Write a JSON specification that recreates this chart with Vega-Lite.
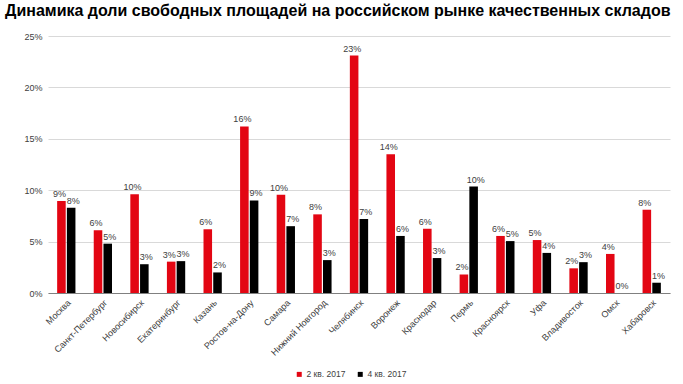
{
  "$schema": "https://vega.github.io/schema/vega-lite/v6.json",
  "autosize": {"type": "none"},
  "width": 622,
  "height": 257,
  "padding": {"left": 48, "top": 36, "right": 13, "bottom": 91},
  "background": "white",
  "title": {
    "text": "Динамика доли свободных площадей на российском рынке качественных складов",
    "anchor": "start",
    "frame": "group",
    "dx": -43,
    "offset": 13,
    "font": "Liberation Sans",
    "fontSize": 16,
    "fontWeight": "bold",
    "color": "#000000"
  },
  "config": {
    "view": {"stroke": null},
    "font": "Liberation Sans"
  },
  "data": {
    "values": [
      {"city": "Москва", "period": "2 кв. 2017", "value": 0.0895},
      {"city": "Москва", "period": "4 кв. 2017", "value": 0.083},
      {"city": "Санкт-Петербург", "period": "2 кв. 2017", "value": 0.061},
      {"city": "Санкт-Петербург", "period": "4 кв. 2017", "value": 0.048},
      {"city": "Новосибирск", "period": "2 кв. 2017", "value": 0.096},
      {"city": "Новосибирск", "period": "4 кв. 2017", "value": 0.028},
      {"city": "Екатеринбург", "period": "2 кв. 2017", "value": 0.0305},
      {"city": "Екатеринбург", "period": "4 кв. 2017", "value": 0.031},
      {"city": "Казань", "period": "2 кв. 2017", "value": 0.062},
      {"city": "Казань", "period": "4 кв. 2017", "value": 0.020},
      {"city": "Ростов-на-Дону", "period": "2 кв. 2017", "value": 0.162},
      {"city": "Ростов-на-Дону", "period": "4 кв. 2017", "value": 0.090},
      {"city": "Самара", "period": "2 кв. 2017", "value": 0.0955},
      {"city": "Самара", "period": "4 кв. 2017", "value": 0.065},
      {"city": "Нижний Новгород", "period": "2 кв. 2017", "value": 0.0765},
      {"city": "Нижний Новгород", "period": "4 кв. 2017", "value": 0.032},
      {"city": "Челябинск", "period": "2 кв. 2017", "value": 0.231},
      {"city": "Челябинск", "period": "4 кв. 2017", "value": 0.072},
      {"city": "Воронеж", "period": "2 кв. 2017", "value": 0.135},
      {"city": "Воронеж", "period": "4 кв. 2017", "value": 0.0555},
      {"city": "Краснодар", "period": "2 кв. 2017", "value": 0.0625},
      {"city": "Краснодар", "period": "4 кв. 2017", "value": 0.034},
      {"city": "Пермь", "period": "2 кв. 2017", "value": 0.018},
      {"city": "Пермь", "period": "4 кв. 2017", "value": 0.1035},
      {"city": "Красноярск", "period": "2 кв. 2017", "value": 0.0555},
      {"city": "Красноярск", "period": "4 кв. 2017", "value": 0.0505},
      {"city": "Уфа", "period": "2 кв. 2017", "value": 0.0515},
      {"city": "Уфа", "period": "4 кв. 2017", "value": 0.039},
      {"city": "Владивосток", "period": "2 кв. 2017", "value": 0.024},
      {"city": "Владивосток", "period": "4 кв. 2017", "value": 0.030},
      {"city": "Омск", "period": "2 кв. 2017", "value": 0.038},
      {"city": "Омск", "period": "4 кв. 2017", "value": 0.0},
      {"city": "Хабаровск", "period": "2 кв. 2017", "value": 0.081},
      {"city": "Хабаровск", "period": "4 кв. 2017", "value": 0.010}
    ]
  },
  "encoding": {
    "x": {
      "field": "city",
      "type": "nominal",
      "sort": null,
      "scale": {"paddingInner": 0.5, "paddingOuter": 0.25},
      "axis": {
        "title": null,
        "labelAngle": -45,
        "labelAlign": "right",
        "labelBaseline": "top",
        "labelFontSize": 9,
        "labelColor": "#404040",
        "ticks": false,
        "domainColor": "#808080",
        "labelPadding": 5
      }
    },
    "xOffset": {"field": "period", "type": "nominal", "scale": {"paddingInner": 0.12}},
    "y": {
      "field": "value",
      "type": "quantitative",
      "scale": {"domain": [0, 0.25], "nice": false},
      "axis": {
        "title": null,
        "format": ".0%",
        "values": [0, 0.05, 0.1, 0.15, 0.2, 0.25],
        "labelOverlap": false,
        "domain": false,
        "ticks": false,
        "labelFontSize": 9,
        "labelColor": "#404040",
        "gridColor": "#d9d9d9",
        "labelPadding": 6
      }
    }
  },
  "layer": [
    {
      "mark": {"type": "bar"},
      "encoding": {
        "color": {
          "field": "period",
          "type": "nominal",
          "scale": {"domain": ["2 кв. 2017", "4 кв. 2017"], "range": ["#e30613", "#000000"]},
          "legend": {
            "title": null,
            "orient": "none",
            "legendX": 247,
            "legendY": 334,
            "direction": "horizontal",
            "symbolType": "square",
            "symbolSize": 25,
            "symbolOffset": 0,
            "labelOffset": 3,
            "labelFontSize": 8.5,
            "labelColor": "#404040",
            "columnPadding": 10
          }
        }
      }
    },
    {
      "transform": [{"filter": "datum.period === '2 кв. 2017'"}],
      "mark": {"type": "text", "dy": -7, "dx": -2, "fontSize": 9, "color": "#404040"},
      "encoding": {
        "text": {"field": "value", "type": "quantitative", "format": ".0%"}
      }
    },
    {
      "transform": [{"filter": "datum.period === '4 кв. 2017'"}],
      "mark": {"type": "text", "dy": -7, "dx": 2, "fontSize": 9, "color": "#404040"},
      "encoding": {
        "text": {"field": "value", "type": "quantitative", "format": ".0%"}
      }
    }
  ]
}
